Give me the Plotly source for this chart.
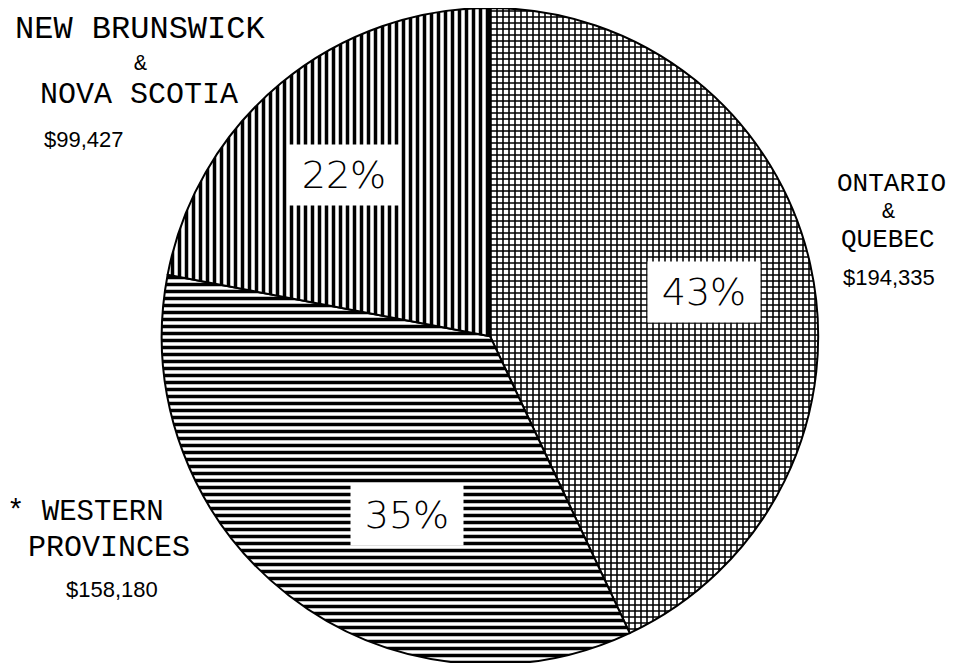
import plotly.graph_objects as go

# ---- data ----
region_names = ["Ontario & Quebec", "Western Provinces", "New Brunswick & Nova Scotia"]
amounts = [194335, 158180, 99427]
amount_labels = ["$194,335", "$158,180", "$99,427"]
pct_labels = ["43%", "35%", "22%"]
name_lines = [["ONTARIO", "&", "QUEBEC"],
              ["* WESTERN", "PROVINCES"],
              ["NEW BRUNSWICK", "&", "NOVA SCOTIA"]]

W, H = 956, 663
OFF = 8  # page body margin


def px(x):
    return (x - OFF) / W


def py(y):
    return 1 - (y - OFF) / H


fig = go.Figure()
fig.add_trace(go.Pie(
    labels=region_names,
    values=amounts,
    sort=False,
    direction="clockwise",
    rotation=0,
    textinfo="none",
    hoverinfo="label+value+percent",
    showlegend=False,
    domain=dict(x=[152 / W, 812 / W], y=[0.01, 1]),
    marker=dict(
        colors=["white", "white", "white"],
        line=dict(color="black", width=2),
        pattern=dict(
            shape=["+", "-", "|"],
            fgcolor="black",
            bgcolor="white",
            size=[6, 7, 7],
            solidity=[0.45, 0.5, 0.5],
        ),
    ),
))

amt_font = dict(family="Liberation Sans", size=22, color="black")
pct_font = dict(family="DejaVu Sans", size=38, color="black", weight=200)

# screen-pixel centres and font sizes of each text line
name_pos = [[(891, 184), (888, 212), (888, 240)],
            [(85, 512), (109, 548)],
            [(140, 30), (140, 64), (139, 95)]]
name_sizes = [[26, 22, 26],
              [29, 30],
              [32, 22, 30]]
amt_pos = [(889, 277), (112, 589), (84, 140)]
pct_pos = [(704, 292), (407, 515), (344, 175)]

annotations = []
for i in range(3):
    for line, (x, y), s in zip(name_lines[i], name_pos[i], name_sizes[i]):
        annotations.append(dict(text=line, x=px(x), y=py(y), xref="paper", yref="paper",
                                showarrow=False,
                                font=dict(family="Liberation Mono", size=s, color="black"),
                                xanchor="center", yanchor="middle"))
    annotations.append(dict(text=amount_labels[i], x=px(amt_pos[i][0]), y=py(amt_pos[i][1]),
                            xref="paper", yref="paper", showarrow=False, font=amt_font,
                            xanchor="center", yanchor="middle"))
    annotations.append(dict(text=pct_labels[i], x=px(pct_pos[i][0]), y=py(pct_pos[i][1]),
                            xref="paper", yref="paper", showarrow=False, font=pct_font,
                            xanchor="center", yanchor="middle", bgcolor="white",
                            width=112, height=60, borderpad=0))

fig.update_layout(
    width=W, height=H,
    margin=dict(l=0, r=0, t=0, b=0),
    paper_bgcolor="white",
    plot_bgcolor="white",
    annotations=annotations,
)

fig.write_html("out.html")
